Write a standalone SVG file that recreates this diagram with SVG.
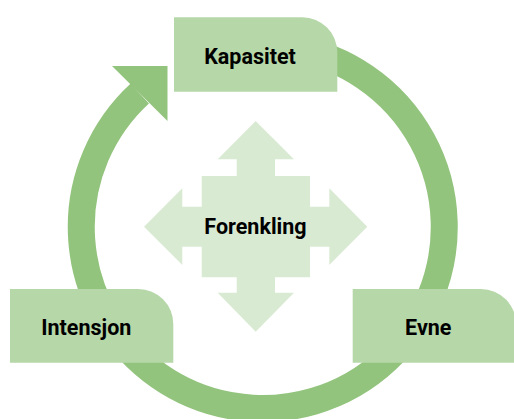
<svg xmlns="http://www.w3.org/2000/svg" width="514" height="419" viewBox="0 0 514 419">
  <style>
    .ring { fill: none; stroke: #93c47d; stroke-width: 27; stroke-linecap: butt; }
    .head { fill: #93c47d; }
    .box { fill: #b6d7a8; }
    .cross { fill: #d9ead3; }
    .label { font-family: Roboto, "Liberation Sans", sans-serif; font-weight: bold; font-size: 21.5px; fill: #000; text-anchor: middle; }
  </style>
  <rect width="514" height="419" fill="#fff"/>

  <!-- circular cycle connector -->
  <g id="connectors">
    <path class="ring" d="M294.5,48.3 A181.5,181.5 0 1 1 139.8,93.5"/>
    <polygon class="head" points="112,66 167.5,66 167.5,121"/>
  </g>

  <!-- central four-way arrow -->
  <g id="forenkling">
    <polygon class="cross" points="255.7,121 294,159.3 275,159.3 275,176 310,176 310,206.7 329.3,206.7 329.3,188.3 367.3,226.7 329.3,265 329.3,246.7 310,246.7 310,277.3 275,277.3 275,292.7 294,292.7 255.7,331.7 217.7,292.7 236.7,292.7 236.7,277.3 201.7,277.3 201.7,246.7 182.3,246.7 182.3,265 144,226.7 182.3,188.3 182.3,206.7 201.7,206.7 201.7,176 236.7,176 236.7,159.3 217.7,159.3"/>
    <text class="label" x="255.5" y="233.5">Forenkling</text>
  </g>

  <g id="kapasitet">
    <path class="box" d="M174,17.3 H302.3 A35,35 0 0 1 337.3,52.3 V91.7 H174 Z"/>
    <text class="label" x="250" y="63.5">Kapasitet</text>
  </g>

  <g id="intensjon">
    <path class="box" d="M10,289 H138.3 A35,35 0 0 1 173.3,324 V362.7 H10 Z"/>
    <text class="label" x="86.3" y="334.5">Intensjon</text>
  </g>

  <g id="evne">
    <path class="box" d="M352.7,289 H481 A35,35 0 0 1 516,324 V362.7 H352.7 Z"/>
    <text class="label" x="428.3" y="334.5">Evne</text>
  </g>
</svg>
